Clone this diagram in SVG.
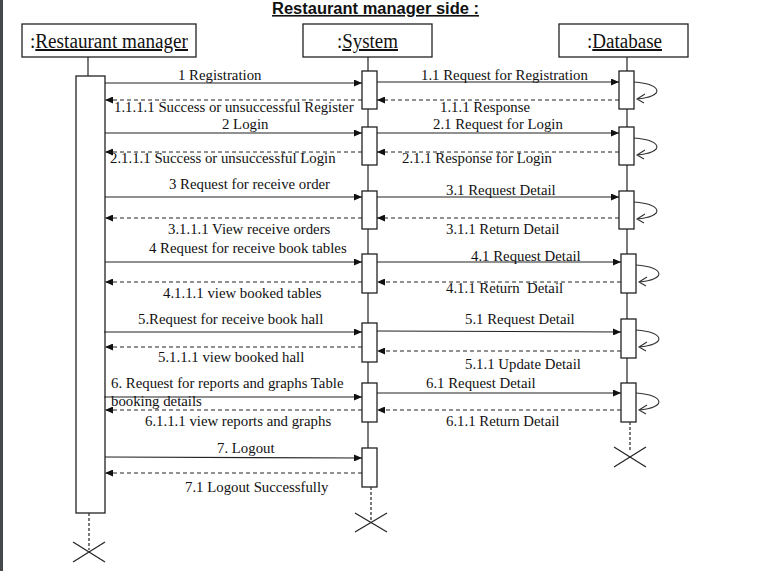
<svg xmlns="http://www.w3.org/2000/svg" width="769" height="576" viewBox="0 0 769 576">
<style>
.t{font-family:"Liberation Serif","Times New Roman",serif;font-size:14.8px;fill:#111;white-space:pre}
.h{font-family:"Liberation Serif","Times New Roman",serif;font-size:20px;fill:#111}
.u{text-decoration:underline}
.box{fill:#fff;stroke:#222;stroke-width:1.3}
.bar{fill:#fff;stroke:#222;stroke-width:1.3}
.ll{stroke:#333;stroke-width:1.3;fill:none}
.dl{stroke:#333;stroke-width:1.3;stroke-dasharray:3,2;fill:none}
.m{stroke:#222;stroke-width:1.1;fill:none;marker-end:url(#ah)}
.r{stroke:#222;stroke-width:1;stroke-dasharray:4,3;fill:none;marker-end:url(#ah)}
.x{stroke:#222;stroke-width:1.2}
.loop{stroke:#333;stroke-width:1.1;fill:none}
</style>
<defs>
<marker id="ah" markerUnits="userSpaceOnUse" markerWidth="8" markerHeight="7" refX="8" refY="3.5" orient="auto">
<path d="M0,0 L8,3.5 L0,7 z" fill="#111"/>
</marker>
</defs>
<rect x="0" y="0" width="3" height="571" fill="#45484d"/>
<text x="272" y="14" font-family="'Liberation Sans',Arial,sans-serif" font-weight="bold" font-size="16" text-decoration="underline" textLength="207" lengthAdjust="spacingAndGlyphs" fill="#111">Restaurant manager side :</text>

<g id="manager">
<rect class="box" x="22" y="24" width="174" height="33"/>
<text class="h" x="30" y="48" textLength="158" lengthAdjust="spacingAndGlyphs">:<tspan class="u">Restaurant manager</tspan></text>
<line class="ll" x1="88" y1="57" x2="88" y2="76"/>
<rect class="bar" x="76" y="76" width="29" height="437"/>
<line class="dl" x1="89" y1="513" x2="89" y2="550"/>
<line class="x" x1="73" y1="542" x2="105" y2="562"/>
<line class="x" x1="73" y1="562" x2="105" y2="542"/>
</g>

<g id="system">
<rect class="box" x="303" y="24" width="129" height="33"/>
<text class="h" x="337" y="48" textLength="61" lengthAdjust="spacingAndGlyphs">:<tspan class="u">System</tspan></text>
<line class="ll" x1="368" y1="57" x2="368" y2="487"/>
<rect class="bar" x="362" y="71" width="15" height="38"/>
<rect class="bar" x="362" y="127" width="15" height="38"/>
<rect class="bar" x="362" y="191" width="15" height="38"/>
<rect class="bar" x="362" y="254" width="15" height="39"/>
<rect class="bar" x="362" y="323" width="15" height="39"/>
<rect class="bar" x="362" y="383" width="15" height="39"/>
<rect class="bar" x="362" y="448" width="15" height="39"/>
<line class="dl" x1="371" y1="487" x2="371" y2="521"/>
<line class="x" x1="355" y1="513" x2="387" y2="532"/>
<line class="x" x1="355" y1="532" x2="387" y2="513"/>
</g>

<g id="database">
<rect class="box" x="559" y="24" width="129" height="33"/>
<text class="h" x="587" y="48" textLength="75" lengthAdjust="spacingAndGlyphs">:<tspan class="u">Database</tspan></text>
<line class="ll" x1="627" y1="57" x2="627" y2="422"/>
<rect class="bar" x="619" y="71" width="15" height="38"/>
<rect class="bar" x="619" y="127" width="15" height="38"/>
<rect class="bar" x="619" y="191" width="15" height="38"/>
<rect class="bar" x="621" y="254" width="15" height="39"/>
<rect class="bar" x="621" y="319" width="15" height="39"/>
<rect class="bar" x="621" y="383" width="15" height="39"/>
<line class="dl" x1="630" y1="422" x2="630" y2="451"/>
<line class="x" x1="614" y1="447" x2="646" y2="467"/>
<line class="x" x1="614" y1="467" x2="646" y2="447"/>
<path class="loop" d="M634,82 C664,84 664,97 637,99 M645,94 L637,99 L644,103"/>
<path class="loop" d="M634,138 C664,140 664,153 637,155 M645,150 L637,155 L644,159"/>
<path class="loop" d="M634,202 C664,204 664,217 637,219 M645,214 L637,219 L644,223"/>
<path class="loop" d="M636,265 C666,267 666,280 639,282 M647,277 L639,282 L646,286"/>
<path class="loop" d="M636,330 C666,332 666,345 639,347 M647,342 L639,347 L646,351"/>
<path class="loop" d="M636,393 C666,395 666,408 639,410 M647,405 L639,410 L646,414"/>
</g>

<g id="connectors">
<line class="m" x1="105" y1="83" x2="362" y2="83"/>
<line class="r" x1="362" y1="100" x2="105" y2="100"/>
<line class="m" x1="105" y1="133" x2="362" y2="133"/>
<line class="r" x1="362" y1="152" x2="105" y2="152"/>
<line class="m" x1="105" y1="197" x2="362" y2="197"/>
<line class="r" x1="362" y1="218" x2="105" y2="218"/>
<line class="m" x1="105" y1="262" x2="362" y2="262"/>
<line class="r" x1="362" y1="282" x2="105" y2="282"/>
<line class="m" x1="104" y1="332" x2="362" y2="332"/>
<line class="r" x1="362" y1="347" x2="105" y2="347"/>
<line class="m" x1="104" y1="397" x2="362" y2="397"/>
<line class="r" x1="362" y1="410" x2="105" y2="410"/>
<line class="m" x1="105" y1="457" x2="362" y2="458"/>
<line class="r" x1="362" y1="473" x2="105" y2="473"/>

<line class="m" x1="377" y1="82" x2="619" y2="82"/>
<line class="r" x1="619" y1="100" x2="377" y2="100"/>
<line class="m" x1="377" y1="133" x2="619" y2="133"/>
<line class="r" x1="619" y1="152" x2="377" y2="152"/>
<line class="m" x1="377" y1="197" x2="619" y2="197"/>
<line class="r" x1="619" y1="218" x2="377" y2="218"/>
<line class="m" x1="377" y1="262" x2="621" y2="262"/>
<line class="r" x1="621" y1="282" x2="377" y2="282"/>
<line class="m" x1="377" y1="331" x2="621" y2="332"/>
<line class="r" x1="621" y1="351" x2="377" y2="351"/>
<line class="m" x1="377" y1="393" x2="621" y2="393"/>
<line class="r" x1="621" y1="410" x2="377" y2="410"/>
</g>

<g id="labels">
<text class="t" x="178" y="80">1 Registration</text>
<text class="t" x="114" y="112">1.1.1.1 Success or unsuccessful Register</text>
<text class="t" x="222" y="129">2 Login</text>
<text class="t" x="110" y="163">2.1.1.1 Success or unsuccessful Login</text>
<text class="t" x="169" y="189">3 Request for receive order</text>
<text class="t" x="168" y="234">3.1.1.1 View receive orders</text>
<text class="t" x="149" y="253">4 Request for receive book tables</text>
<text class="t" x="163" y="298">4.1.1.1 view booked tables</text>
<text class="t" x="138" y="324">5.Request for receive book hall</text>
<text class="t" x="158" y="362">5.1.1.1 view booked hall</text>
<text class="t" x="111" y="388">6. Request for reports and graphs Table</text>
<text class="t" x="111" y="406">booking details</text>
<text class="t" x="145" y="426">6.1.1.1 view reports and graphs</text>
<text class="t" x="217" y="453">7. Logout</text>
<text class="t" x="185" y="492">7.1 Logout Successfully</text>

<text class="t" x="421" y="80">1.1 Request for Registration</text>
<text class="t" x="440" y="112">1.1.1 Response</text>
<text class="t" x="433" y="129">2.1 Request for Login</text>
<text class="t" x="402" y="163">2.1.1 Response for Login</text>
<text class="t" x="446" y="195">3.1 Request Detail</text>
<text class="t" x="446" y="234">3.1.1 Return Detail</text>
<text class="t" x="471" y="261">4.1 Request Detail</text>
<text class="t" x="446" y="293">4.1.1 Return  Detail</text>
<text class="t" x="465" y="324">5.1 Request Detail</text>
<text class="t" x="465" y="369">5.1.1 Update Detail</text>
<text class="t" x="426" y="388">6.1 Request Detail</text>
<text class="t" x="446" y="426">6.1.1 Return Detail</text>
</g>
</svg>
